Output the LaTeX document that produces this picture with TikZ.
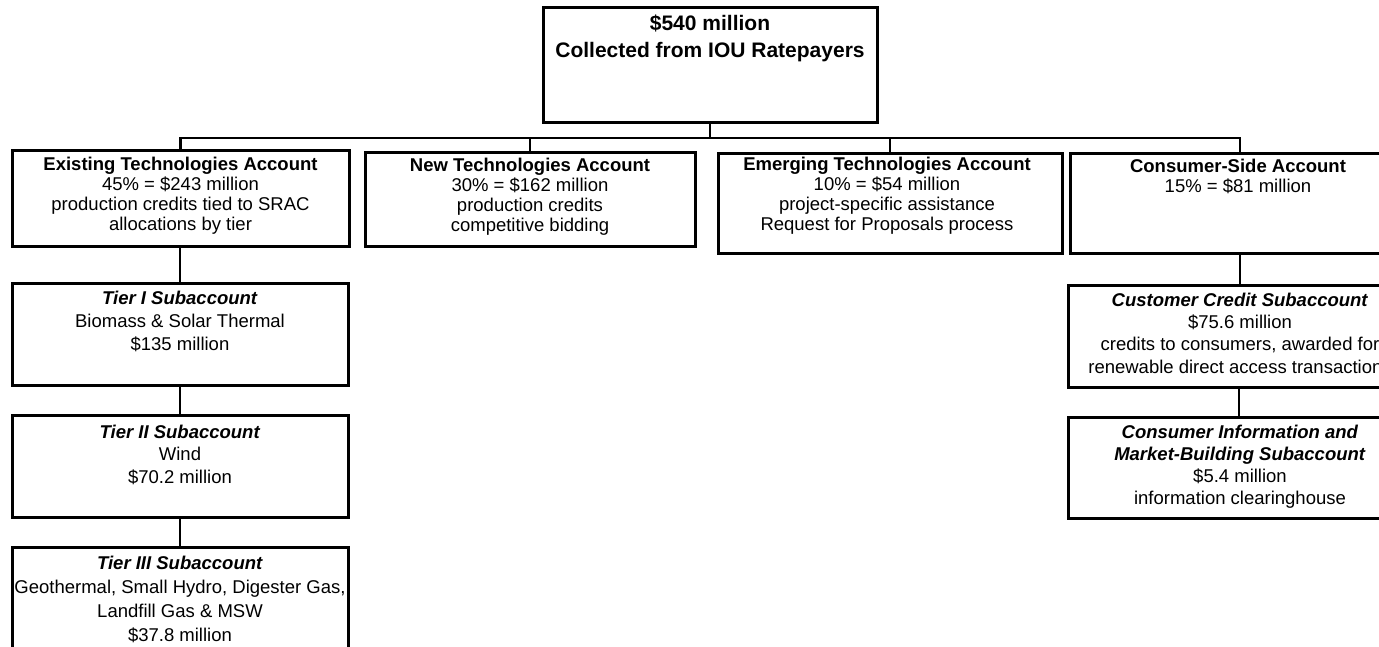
\documentclass[tikz,border=0pt]{standalone}
\usepackage{fontspec}
\setmainfont{Liberation Sans}
\begin{document}
\begin{tikzpicture}[x=1pt,y=-1pt,
  box/.style={draw, line width=3pt, inner sep=0pt},
  conn/.style={line width=2.5pt},
  txt/.style={align=center, inner sep=0pt, anchor=base, font=\fontsize{18.5}{#1}\selectfont},
]
\useasboundingbox (0,0) rectangle (1379,647);
\clip (0,0) rectangle (1379,647);
\fill[white] (0,0) rectangle (1379,647);

% boxes
\node[box, minimum width=334pt, minimum height=115pt] (top) at (710,65.5) {};
\node[box, minimum width=337pt, minimum height=96pt] (exist) at (180.5,199) {};
\node[box, minimum width=330pt, minimum height=94pt] (new) at (530,200) {};
\node[box, minimum width=344pt, minimum height=100pt] (emer) at (890,204) {};
\node[box, minimum width=340pt, minimum height=100pt] (cons) at (1240,204) {};
\node[box, minimum width=336pt, minimum height=102pt] (t1) at (180,334) {};
\node[box, minimum width=336pt, minimum height=102pt] (t2) at (180,466) {};
\node[box, minimum width=336pt, minimum height=143pt] (t3) at (180,618.5) {};
\node[box, minimum width=342pt, minimum height=102pt] (cc) at (1239,336) {};
\node[box, minimum width=342pt, minimum height=101pt] (ci) at (1239,467.5) {};

% connectors
\coordinate (bus) at (0,138);
\draw[conn] (top.south) -- (top.south |- bus);
\draw[conn] (exist.north) -- (exist.north |- bus) -- (cons.north |- bus) -- (cons.north);
\draw[conn] (new.north) -- (new.north |- bus);
\draw[conn] (emer.north) -- (emer.north |- bus);
\draw[conn] (t1.north |- exist.south) -- (t1.north);
\draw[conn] (t1.south) -- (t2.north);
\draw[conn] (t2.south) -- (t3.north);
\draw[conn] (cons.south) -- (cons.south |- cc.north);
\draw[conn] (cc.south) -- (ci.north);

% texts (anchor=base is the baseline of the last line)
\node[txt=27, font=\fontsize{21}{27}\selectfont] (toptxt) at (710,58)
  {\textbf{\$540 million}\\\textbf{Collected from IOU Ratepayers}};
\node[txt=20] (existtxt) at (180.5,231)
  {\textbf{Existing Technologies Account}\\45\% = \$243 million\\production credits tied to SRAC\\allocations by tier};
\node[txt=20] (newtxt) at (530,232)
  {\textbf{New Technologies Account}\\30\% = \$162 million\\production credits\\competitive bidding};
\node[txt=20] (emertxt) at (887,231)
  {\textbf{Emerging Technologies Account}\\10\% = \$54 million\\project-specific assistance\\Request for Proposals process};
\node[txt=20] (constxt) at (1238,193)
  {\textbf{Consumer-Side Account}\\15\% = \$81 million};
\node[txt=23] (t1txt) at (180,350)
  {\textbf{\textit{Tier I Subaccount}}\\Biomass \& Solar Thermal\\\$135 million};
\node[txt=22.5] (t2txt) at (180,483)
  {\textbf{\textit{Tier II Subaccount}}\\Wind\\\$70.2 million};
\node[txt=24] (t3txt) at (180,641)
  {\textbf{\textit{Tier III Subaccount}}\\Geothermal, Small Hydro, Digester Gas,\\Landfill Gas \& MSW\\\$37.8 million};
\node[txt=22.3] (cctxt) at (1240,373)
  {\textbf{\textit{Customer Credit Subaccount}}\\\$75.6 million\\credits to consumers, awarded for\\renewable direct access transactions};
\node[txt=22] (citxt) at (1240,504)
  {\textbf{\textit{Consumer Information and}}\\\textbf{\textit{Market-Building Subaccount}}\\\$5.4 million\\information clearinghouse};
\end{tikzpicture}
\end{document}
